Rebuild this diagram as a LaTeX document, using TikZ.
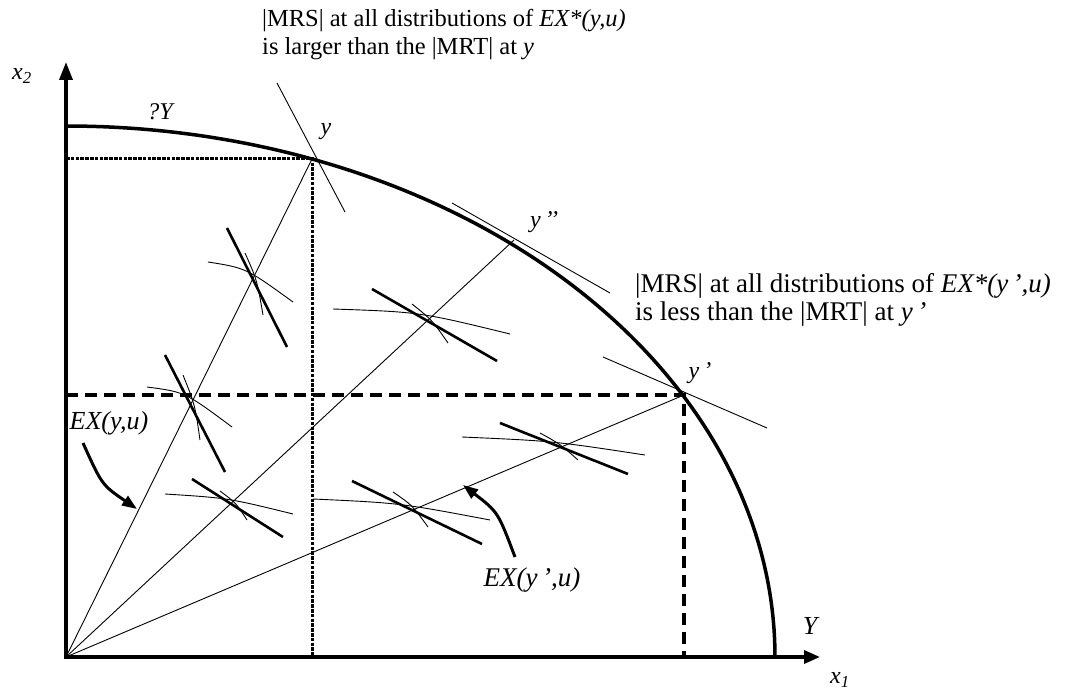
\documentclass[tikz,border=0pt]{standalone}
\usepackage{fontspec}
\setmainfont{Liberation Serif}
\usetikzlibrary{arrows.meta}
\begin{document}
\begin{tikzpicture}[x=1pt,y=-1pt,
  axis/.style={line width=3.5pt},
  frontier/.style={line width=3.5pt},
  thinline/.style={line width=0.9pt},
  mrsline/.style={line width=2.6pt},
  dotline/.style={line width=3pt, dash pattern=on 3.5pt off 1.3pt},
  dashline/.style={line width=4pt, dash pattern=on 12pt off 7pt},
  lbl/.style={inner sep=0pt, font=\fontsize{24}{28}\selectfont\itshape},
  note/.style={inner sep=0pt, anchor=base west},
  curvedarrow/.style={line width=3pt, -{Triangle[length=15pt,width=11pt]}},
]
\useasboundingbox (0,0) rectangle (1090,692);

% key points
\coordinate (O) at (66,657);
\coordinate (ytip) at (66,62);
\coordinate (xtip) at (820,657);
\coordinate (y) at (312,159);
\coordinate (ypp) at (514,240);
\coordinate (yp) at (684,395);

% dotted and dashed guide lines
\draw[dotline] (O |- y) -- (y) -- (y |- O);
\draw[dashline] (O |- yp) -- (yp) -- (yp |- O);

% rays from origin
\draw[thinline] (O) -- (y);
\draw[thinline] (O) -- (ypp);
\draw[thinline] (O) -- (yp);

% frontier
\draw[frontier] plot[domain=0:90, samples=90, smooth] ({66+709*cos(\x)},{657-531*sin(\x)});

% tangent (MRS) lines at the frontier points
\coordinate (ta1) at (277,83);  \coordinate (ta2) at (345,212);
\coordinate (tb1) at (452,203); \coordinate (tb2) at (610,293);
\coordinate (tc1) at (603,357); \coordinate (tc2) at (767,428);
\draw[thinline] (ta1) -- (ta2);
\draw[thinline] (tb1) -- (tb2);
\draw[thinline] (tc1) -- (tc2);

% axes
\draw[axis, -{Triangle[length=18pt,width=13pt]}] (66,659) -- (ytip);
\draw[axis, -{Triangle[length=16pt,width=13pt]}] (64,657) -- (xtip);

% crossings: thick MRS line, thin indifference curve, small arc
% 1
\draw[mrsline] (227,228) -- (287,347);
\draw[thinline] (208,262) .. controls (246,268) .. (293,302);
\draw[thinline] (245,253) .. controls (257,280) .. (263,315);
% 2
\draw[mrsline] (165,355) -- (225,472);
\draw[thinline] (147,387) .. controls (185,392) .. (232,427);
\draw[thinline] (183,375) .. controls (195,405) .. (200,440);
% 3
\draw[mrsline] (372,289) -- (497,361);
\draw[thinline] (333,309) .. controls (420,312) .. (510,334);
\draw[thinline] (412,304) .. controls (432,320) .. (448,343);
% 4
\draw[mrsline] (192,479) -- (283,537);
\draw[thinline] (165,494) .. controls (228,498) .. (293,514);
\draw[thinline] (220,491) .. controls (236,503) .. (247,520);
% 5
\draw[mrsline] (352,481) -- (482,544);
\draw[thinline] (313,499) .. controls (400,503) .. (490,520);
\draw[thinline] (393,492) .. controls (412,505) .. (428,527);
% 6
\draw[mrsline] (500,423) -- (628,474);
\draw[thinline] (462,437) .. controls (553,441) .. (645,455);
\draw[thinline] (540,433) .. controls (560,444) .. (578,460);

% curved arrows
\coordinate (a1s) at (83,443); \coordinate (a1e) at (137,509);
\coordinate (a2s) at (515,557); \coordinate (a2e) at (463,485);
\draw[curvedarrow] (a1s) .. controls (102,485) .. (a1e);
\draw[curvedarrow] (a2s) .. controls (498,512) .. (a2e);

% labels
\node[lbl] (x2lab) at (22,76) {x\textsubscript{2}};
\node[lbl] (x1lab) at (840,680) {x\textsubscript{1}};
\node[lbl] (qY) at (160,112) {?Y};
\node[lbl] (ylab) at (326,132) {y};
\node[lbl] (ypplab) at (544,222) {y\,’’};
\node[lbl] (yplab) at (700,373) {y\,’};
\node[lbl, font=\fontsize{26}{30}\selectfont\itshape] (Ylab) at (810,626) {Y};
\node[lbl, font=\fontsize{26}{30}\selectfont\itshape] (exy) at (109,423) {EX(y,u)};
\node[lbl, font=\fontsize{27}{31}\selectfont\itshape] (exyp) at (532,580) {EX(y\,’,u)};

% notes
\node[note, font=\fontsize{24.5}{28}\selectfont] (n1a) at (262,27) {|MRS| at all distributions of \textit{EX*(y,u)}};
\node[note, font=\fontsize{24.5}{28}\selectfont] (n1b) at (262,55) {is larger than the |MRT| at \textit{y}};
\node[note, font=\fontsize{27}{31}\selectfont] (n2a) at (635,293) {|MRS| at all distributions of \textit{EX*(y\,’,u)}};
\node[note, font=\fontsize{27}{31}\selectfont] (n2b) at (635,321) {is less than the |MRT| at \textit{y\,’}};
\end{tikzpicture}
\end{document}
